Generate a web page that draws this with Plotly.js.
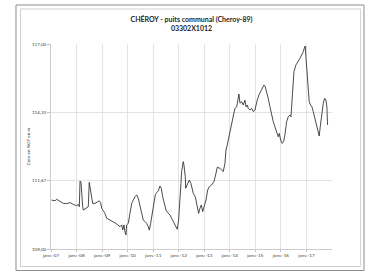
<!DOCTYPE html>
<html>
<head>
<meta charset="utf-8">
<script src="https://cdn.plot.ly/plotly-3.0.1.min.js"></script>
<style>
html,body{margin:0;padding:0;background:#fff;}
#chart{width:371px;height:273px;}
</style>
</head>
<body>
<div id="chart"></div>
<script>
// Measurement dates
const dates = [
"2007-01-08","2007-02-27","2007-03-23","2007-05-10","2007-06-26","2007-08-13","2007-09-30","2007-11-16",
"2008-01-03","2008-01-26","2008-02-10","2008-02-20","2008-03-05","2008-03-29","2008-04-07","2008-05-15",
"2008-06-17","2008-07-01","2008-07-22","2008-08-19","2008-09-21","2008-10-24","2008-11-21","2008-12-11",
"2008-12-26","2009-02-11","2009-03-07","2009-04-23","2009-06-10","2009-07-28","2009-09-13","2009-10-08",
"2009-10-22","2009-11-10","2009-11-24","2009-12-08","2009-12-18","2010-01-10","2010-02-03","2010-02-28",
"2010-04-16","2010-05-10","2010-06-02","2010-06-26","2010-07-21","2010-08-12","2010-09-06","2010-09-30",
"2010-10-23","2010-11-06","2010-11-26","2010-12-19","2011-01-12","2011-01-31","2011-02-20","2011-03-15",
"2011-04-08","2011-04-27","2011-05-17","2011-06-09","2011-07-03","2011-07-27","2011-08-29","2011-09-22",
"2011-10-15","2011-11-09","2011-12-03","2011-12-11","2011-12-31","2012-01-19","2012-02-02","2012-02-12",
"2012-03-06","2012-03-16","2012-04-04","2012-04-10","2012-05-08","2012-05-31","2012-06-24","2012-07-27",
"2012-08-25","2012-09-22","2012-10-12","2012-10-31","2012-11-19","2012-12-09","2012-12-27","2013-01-25",
"2013-02-18","2013-03-13","2013-04-16","2013-05-19","2013-06-12","2013-06-27","2013-07-05","2013-08-13",
"2013-09-06","2013-09-29","2013-10-23","2013-11-07","2013-11-25","2013-12-09","2014-01-03","2014-01-27",
"2014-02-19","2014-03-15","2014-04-09","2014-05-01","2014-05-11","2014-05-26","2014-06-19","2014-07-12",
"2014-08-05","2014-08-20","2014-09-07","2014-09-21","2014-10-16","2014-11-09","2014-12-02","2014-12-26",
"2015-01-09","2015-01-28","2015-02-21","2015-03-18","2015-04-10","2015-05-04","2015-05-22","2015-06-11",
"2015-07-04","2015-07-29","2015-08-22","2015-09-14","2015-10-08","2015-11-01","2015-11-24","2015-12-09",
"2015-12-29","2016-01-20","2016-02-09","2016-02-28","2016-03-23","2016-04-15","2016-05-09","2016-05-24",
"2016-06-03","2016-06-17","2016-07-06","2016-08-03","2016-09-05","2016-09-29","2016-10-24","2016-11-16",
"2016-12-06","2016-12-14","2016-12-24","2017-01-08","2017-01-22","2017-02-09","2017-03-01","2017-03-20",
"2017-04-08","2017-05-02","2017-05-26","2017-06-18","2017-07-02","2017-07-17","2017-08-06","2017-08-29",
"2017-09-18","2017-10-06","2017-10-20","2017-10-30"
];
// Water level, m NGF
const levels = [
110.91,110.88,110.94,110.85,110.78,110.77,110.81,110.74,
110.69,110.74,110.65,111.65,111.61,110.65,110.52,110.59,
110.65,111.60,111.30,110.78,110.78,110.85,110.88,110.81,
110.59,110.39,110.20,110.13,110.07,109.98,109.87,109.94,
109.74,109.94,109.66,109.55,109.94,110.00,110.39,110.78,
111.04,111.11,110.98,110.68,110.39,110.13,110.07,110.00,
109.87,109.74,110.00,110.39,110.78,111.11,111.20,111.27,
111.46,111.37,111.04,110.72,110.52,110.42,110.33,110.20,
110.07,109.94,109.81,109.77,110.13,110.78,111.56,112.02,
112.41,112.28,111.82,111.37,111.56,111.69,111.56,111.17,
111.04,110.65,110.39,110.59,110.72,110.46,110.65,110.91,
111.30,111.43,111.50,111.63,111.89,112.15,112.19,112.15,
112.08,112.02,112.34,112.86,113.06,113.25,113.64,113.97,
114.23,114.49,114.55,114.81,115.05,114.69,114.75,114.62,
114.81,114.55,114.62,114.49,114.42,114.49,114.36,114.42,
114.62,114.81,115.01,115.14,115.27,115.40,115.33,115.14,
114.88,114.55,114.23,113.97,113.77,113.58,113.38,113.51,
113.25,113.12,113.19,113.45,113.97,114.16,114.23,114.16,
114.55,115.47,115.92,116.18,116.31,116.44,116.57,116.70,
116.89,116.92,116.50,115.86,115.20,114.75,114.62,114.55,
114.36,114.10,113.77,113.51,113.41,113.77,114.30,114.69,
114.88,114.81,114.55,113.84
];
const xTickVals = ["2007-01-01","2008-01-01","2009-01-01","2010-01-01","2011-01-01","2012-01-01",
  "2013-01-01","2014-01-01","2015-01-01","2016-01-01","2017-01-01"];
const xTickText = ["janv.-07","janv.-08","janv.-09","janv.-10","janv.-11","janv.-12",
  "janv.-13","janv.-14","janv.-15","janv.-16","janv.-17"];
const yTickVals = [109, 111.67, 114.33, 117];
const yTickText = ["109,00","111,67","114,33","117,00"];

const FONT = "Lato, 'Liberation Sans', sans-serif";
const trace = {
  x: dates, y: levels, type: "scatter", mode: "lines",
  line: {color: "#2b2b2b", width: 0.85},
  hoverinfo: "skip"
};
const layout = {
  width: 371, height: 273,
  margin: {l: 51, r: 39, t: 44, b: 24},
  paper_bgcolor: "#fff", plot_bgcolor: "#fff",
  showlegend: false,
  font: {family: FONT, color: "#404040", size: 5},
  title: {
    text: "<b>CHÉROY - puits communal (Cheroy-89)<br>03302X1012</b>",
    font: {family: FONT, size: 7, color: "#262626"},
    xref: "paper", x: 0.5, xanchor: "center",
    yref: "container", y: 0.918, yanchor: "top"
  },
  xaxis: {
    type: "date", range: ["2007-01-01", "2018-01-01"],
    tickmode: "array", tickvals: xTickVals, ticktext: xTickText,
    showgrid: true, gridcolor: "#dcdcdc", gridwidth: 0.8,
    showline: true, linecolor: "#bfbfbf", linewidth: 0.8,
    ticks: "outside", ticklen: 2, tickcolor: "#bfbfbf",
    tickfont: {family: FONT, size: 4.6, color: "#404040"},
    zeroline: false, fixedrange: true
  },
  yaxis: {
    range: [109, 117],
    tickmode: "array", tickvals: yTickVals, ticktext: yTickText,
    showgrid: true, gridcolor: "#dcdcdc", gridwidth: 0.8,
    showline: true, linecolor: "#bfbfbf", linewidth: 0.8,
    ticks: "outside", ticklen: 3, tickcolor: "#bfbfbf",
    tickfont: {family: FONT, size: 4.6, color: "#404040"},
    title: {text: "Cote en NGF en m", font: {family: FONT, size: 4.6, color: "#262626"}, standoff: 1},
    zeroline: false, fixedrange: true
  },
  shapes: [
    {type: "rect", xref: "paper", yref: "paper", x0: -0.1246, x1: 1.1139, y0: -0.1049, y1: 1.1902,
     line: {color: "#8c8c8c", width: 1}, fillcolor: "rgba(0,0,0,0)", layer: "below"},
    {type: "rect", xref: "paper", yref: "paper", x0: -0.1085, x1: 1.1021, y0: -0.0854, y1: 1.1707,
     line: {color: "#d0d0d0", width: 1}, fillcolor: "rgba(0,0,0,0)", layer: "below"}
  ]
};
Plotly.newPlot("chart", [trace], layout, {staticPlot: true, displayModeBar: false});
</script>
</body>
</html>
